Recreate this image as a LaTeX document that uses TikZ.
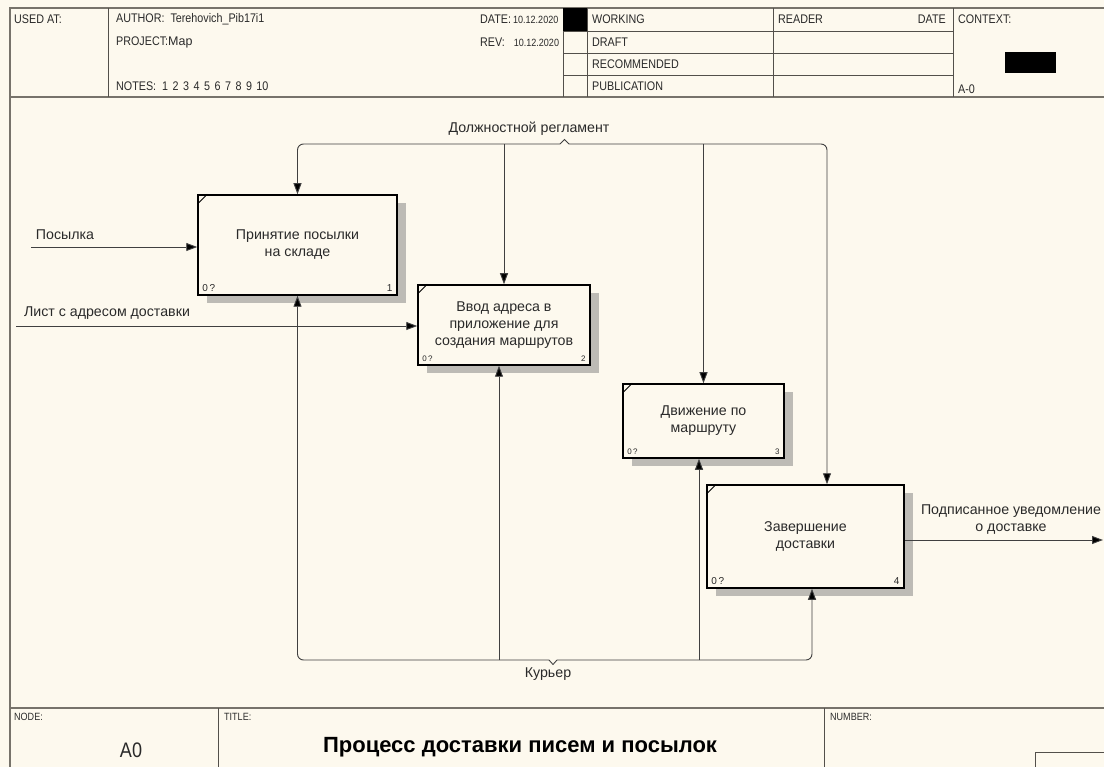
\documentclass[tikz,border=0pt]{standalone}
\usepackage{fontspec}
\setmainfont{Liberation Sans}
\newfontfamily\hdfont{Liberation Sans}[FakeStretch=0.86]
\usetikzlibrary{arrows.meta,calc,shadows}

\definecolor{paper}{HTML}{FDF9EE}
\definecolor{framec}{HTML}{77736B}
\definecolor{wirec}{HTML}{404040}
\definecolor{ink}{HTML}{2A2A2A}
\definecolor{shade}{HTML}{BDBBB5}

\newcommand{\gapnum}{\hspace{4.5pt}}

\begin{document}
\begin{tikzpicture}[x=1pt,y=-1pt,
  outer/.style={draw=framec,line width=1.8pt},
  divider/.style={draw=framec!70!black,line width=0.9pt},
  hd/.style={anchor=west,inner sep=0pt,font=\hdfont\fontsize{12.5}{14}\selectfont,text=ink},
  act/.style={draw=black,line width=1.5pt,fill=paper,inner sep=0pt,align=center,
    font=\fontsize{14.2}{17}\selectfont,text=ink,
    drop shadow={shadow xshift=9pt,shadow yshift=-8pt,fill=shade,opacity=1}},
  tag/.style={inner sep=0pt,font=\fontsize{9}{10}\selectfont,text=ink},
  lbl/.style={inner sep=0pt,align=center,font=\fontsize{14.2}{17}\selectfont,text=ink},
  wire/.style={draw=wirec,line width=0.9pt},
  arr/.style={wire,-{Triangle[length=11pt,width=8pt,fill=black]}},
]
% sheet
\fill[paper] (0,0) rectangle (1104,767);
\useasboundingbox (0,0) rectangle (1104,767);

% ---------- header block ----------
\draw[outer] (10,767) -- (10,8) -- (1104,8);
\draw[outer] (10,97) -- (1104,97);
\foreach \x in {108,563,587,773,953} \draw[divider] (\x,8) -- (\x,97);
\foreach \y in {31,53,75} \draw[divider] (563,\y) -- (953,\y);
\fill[black] (563,8) rectangle (587,31);
\fill[black] (1005,52) rectangle (1056,73);

\node[hd] (usedat) at (14,19) {USED AT:};
\node[hd] (author) at (116,19) {AUTHOR:\ \ Terehovich\_Pib17i1};
\node[hd] (project) at (116,42) {PROJECT:{\fontsize{12.5}{14}\selectfont\rmfamily Map}};
\node[hd] (notes) at (116,86) {NOTES:\ \ 1\gapnum 2\gapnum 3\gapnum 4\gapnum 5\gapnum 6\gapnum 7\gapnum 8\gapnum 9\gapnum 10};
\node[hd] (date) at (480,19) {DATE:\,{\fontsize{10.5}{12}\selectfont 10.12.2020}};
\node[hd] (rev) at (480,42) {REV:\ \ \ {\fontsize{10.5}{12}\selectfont 10.12.2020}};
\node[hd] (working) at (592,19) {WORKING};
\node[hd] (draft) at (592,42) {DRAFT};
\node[hd] (recommended) at (592,64) {RECOMMENDED};
\node[hd] (publication) at (592,86) {PUBLICATION};
\node[hd] (reader) at (778,19) {READER};
\node[hd,anchor=east] (rdate) at (946,19) {DATE};
\node[hd] (context) at (958,19) {CONTEXT:};
\node[hd] (ctxnode) at (958,89) {A-0};

% ---------- footer block ----------
\draw[outer] (10,708) -- (1104,708);
\foreach \x in {218,824} \draw[divider] (\x,708) -- (\x,767);
\draw[divider] (1035,767) -- (1035,752) -- (1104,752);
\node[hd,font=\hdfont\fontsize{10.5}{12}\selectfont] (nodecap) at (14,717) {NODE:};
\node[hd,font=\hdfont\fontsize{10.5}{12}\selectfont] (titlecap) at (224,717) {TITLE:};
\node[hd,font=\hdfont\fontsize{10.5}{12}\selectfont] (numbercap) at (830,717) {NUMBER:};
\node[inner sep=0pt,font=\hdfont\fontsize{21}{24}\selectfont,text=ink] (nodeid) at (131,750) {A0};
\node[inner sep=0pt,font=\bfseries\fontsize{22}{24}\selectfont,text=black] (title) at (520,747) {Процесс доставки писем и посылок};

% ---------- activities ----------
\node[act,minimum width=199pt,minimum height=100pt] (a1) at (297.5,245) {Принятие посылки\\на складе};
\node[act,minimum width=172pt,minimum height=80pt] (a2) at (504,325) {Ввод адреса в\\приложение для\\создания маршрутов};
\node[act,minimum width=161pt,minimum height=74pt] (a3) at (703.5,421) {Движение по\\маршруту};
\node[act,minimum width=197pt,minimum height=103pt] (a4) at (805.5,536.5) {Завершение\\доставки};

\foreach \b/\n/\s in {a1/1/10,a2/2/8,a3/3/8,a4/4/10}{
  \draw[black,line width=1pt] ($(\b.north west)+(0,10)$) -- ++(10,-10);
  \node[tag,anchor=south west,font=\fontsize{\s}{10}\selectfont] (\b-ref) at ($(\b.south west)+(5,-4)$) {0\,?};
  \node[tag,anchor=south east,font=\fontsize{\s}{10}\selectfont] (\b-num) at ($(\b.south east)+(-5,-4)$) {\n};
}

% ---------- control ----------
\coordinate (ctlA) at (560,144);
\coordinate (ctlTip) at (564.5,139.5);
\coordinate (ctlB) at (569,144);
\coordinate (ctlR) at (827,144);
\draw[wire] (ctlA) -- (ctlTip) -- (ctlB);
\draw[arr,rounded corners=6pt] (ctlA) -- (ctlA -| a1.north) -- (a1.north);
\draw[arr,rounded corners=6pt] (ctlB) -- (ctlR) -- (ctlR |- a4.north);
\draw[arr] (a2.north |- ctlA) -- (a2.north);
\draw[arr] (a3.north |- ctlA) -- (a3.north);
\node[lbl] (ctllabel) at (529,129) {Должностной регламент};

% ---------- mechanism ----------
\coordinate (mA) at (549,660);
\coordinate (mTip) at (553,664.5);
\coordinate (mB) at (557,660);
\coordinate (mR) at (812,660);
\coordinate (m2) at (499,660);
\coordinate (m3) at (699,660);
\draw[wire] (mA) -- (mTip) -- (mB);
\draw[arr,rounded corners=6pt] (mA) -- (mA -| a1.south) -- (a1.south);
\draw[arr,rounded corners=6pt] (mB) -- (mR) -- (mR |- a4.south);
\draw[arr] (m2) -- (m2 |- a2.south);
\draw[arr] (m3) -- (m3 |- a3.south);
\node[lbl] (mechlabel) at (548,674) {Курьер};

% ---------- inputs ----------
\coordinate (in1) at (31,247);
\coordinate (in2) at (16,326);
\draw[arr] (in1) -- (in1 -| a1.west);
\draw[arr] (in2) -- (in2 -| a2.west);
\node[lbl] (in1label) at (65,235) {Посылка};
\node[lbl] (in2label) at (107,313) {Лист с адресом доставки};

% ---------- output ----------
\coordinate (out) at (1103,540);
\draw[arr] (out -| a4.east) -- (out);
\node[lbl] (outlabel) at (1011,520) {Подписанное уведомление\\о доставке};
\end{tikzpicture}
\end{document}
